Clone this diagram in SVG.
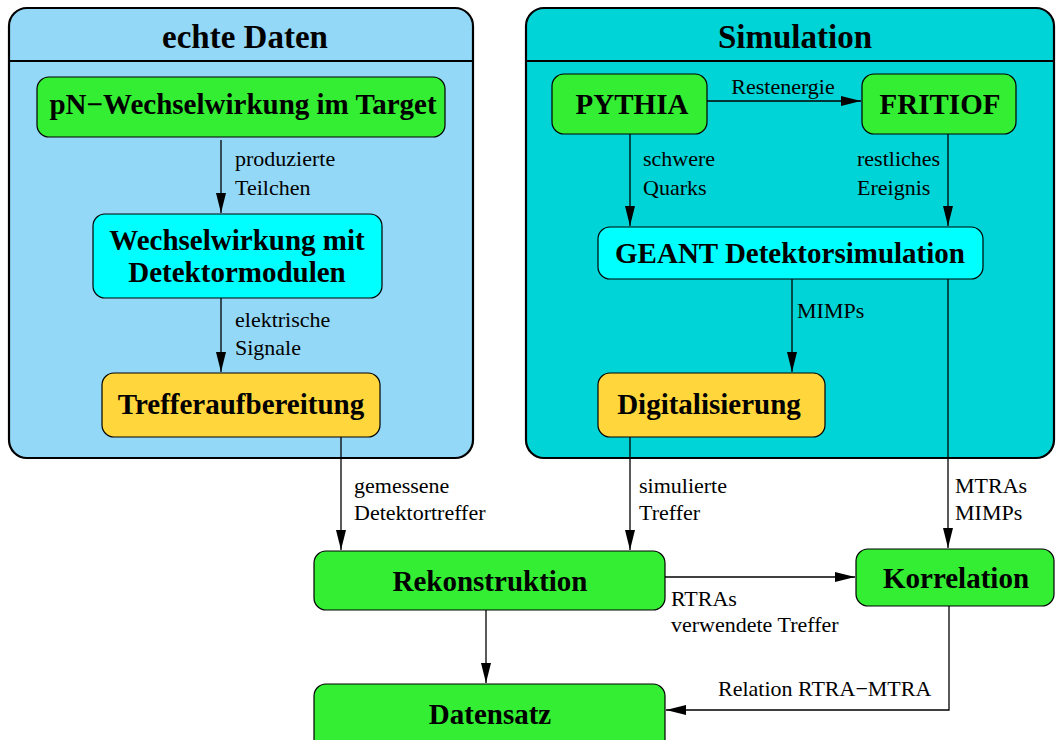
<svg xmlns="http://www.w3.org/2000/svg" width="1056" height="740" viewBox="0 0 1056 740">
<style>
.cont{stroke:#000;stroke-width:2.2}
.node{stroke:#000;stroke-width:1.2}
.g{fill:#33ee33}.c{fill:#00ffff}.y{fill:#ffd63c}
.t{font-family:"Liberation Serif",serif;font-weight:bold;font-size:29px;text-anchor:middle;fill:#000}
.h{font-family:"Liberation Serif",serif;font-weight:bold;font-size:33px;text-anchor:middle;fill:#000}
.l{font-family:"Liberation Serif",serif;font-size:22px;fill:#000}
.e{fill:none;stroke:#000;stroke-width:1.3}
</style>
<defs>
<marker id="ah" viewBox="0 0 20 10" refX="20" refY="5" markerWidth="20" markerHeight="10" markerUnits="userSpaceOnUse" orient="auto">
<path d="M0,0 L20,5 L0,10 z" fill="#000"/>
</marker>
</defs>
<rect width="1056" height="740" fill="#fff"/>
<g id="echte-daten">
<rect class="cont" x="9" y="8" width="464" height="450" rx="18" fill="#94d8f8"/>
<line class="cont" x1="9" y1="61" x2="473" y2="61"/>
<text class="h" x="245" y="48">echte Daten</text>
</g>
<g id="simulation">
<rect class="cont" x="526" y="8" width="528" height="450" rx="18" fill="#00d4d6"/>
<line class="cont" x1="526" y1="61" x2="1054" y2="61"/>
<text class="h" x="795" y="48">Simulation</text>
</g>
<g id="connectors">
<line class="e" x1="221" y1="140" x2="221" y2="213" marker-end="url(#ah)"/>
<line class="e" x1="221" y1="298" x2="221" y2="372" marker-end="url(#ah)"/>
<line class="e" x1="707" y1="101" x2="861" y2="101" marker-end="url(#ah)"/>
<line class="e" x1="630" y1="134" x2="630" y2="226" marker-end="url(#ah)"/>
<line class="e" x1="948" y1="134" x2="948" y2="226" marker-end="url(#ah)"/>
<line class="e" x1="792" y1="279" x2="792" y2="372" marker-end="url(#ah)"/>
<line class="e" x1="948" y1="279" x2="948" y2="548" marker-end="url(#ah)"/>
<line class="e" x1="341" y1="437" x2="341" y2="550" marker-end="url(#ah)"/>
<line class="e" x1="630" y1="437" x2="630" y2="550" marker-end="url(#ah)"/>
<line class="e" x1="665" y1="577" x2="855" y2="577" marker-end="url(#ah)"/>
<line class="e" x1="486" y1="610" x2="486" y2="683" marker-end="url(#ah)"/>
<polyline class="e" points="949,606 949,710 666,710" marker-end="url(#ah)"/>
<text class="l" x="235" y="166">produzierte</text>
<text class="l" x="235" y="195">Teilchen</text>
<text class="l" x="235" y="327">elektrische</text>
<text class="l" x="235" y="355">Signale</text>
<text class="l" x="783" y="94" text-anchor="middle">Restenergie</text>
<text class="l" x="643" y="166">schwere</text>
<text class="l" x="643" y="195">Quarks</text>
<text class="l" x="857" y="166">restliches</text>
<text class="l" x="857" y="195">Ereignis</text>
<text class="l" x="797" y="318">MIMPs</text>
<text class="l" x="354" y="493">gemessene</text>
<text class="l" x="354" y="520">Detektortreffer</text>
<text class="l" x="639" y="493">simulierte</text>
<text class="l" x="639" y="520">Treffer</text>
<text class="l" x="955" y="493">MTRAs</text>
<text class="l" x="955" y="520">MIMPs</text>
<text class="l" x="671" y="606">RTRAs</text>
<text class="l" x="671" y="632">verwendete Treffer</text>
<text class="l" x="718" y="696">Relation RTRA−MTRA</text>
</g>
<g id="pn">
<rect class="node g" x="37" y="77" width="408" height="60" rx="12"/>
<text class="t" x="243" y="114">pN−Wechselwirkung im Target</text>
</g>
<g id="wechselwirkung">
<rect class="node c" x="93" y="214" width="289" height="84" rx="12"/>
<text class="t" x="237" y="250">Wechselwirkung mit</text>
<text class="t" x="237" y="282">Detektormodulen</text>
</g>
<g id="trefferaufbereitung">
<rect class="node y" x="102" y="373" width="278" height="64" rx="12"/>
<text class="t" x="241" y="414">Trefferaufbereitung</text>
</g>
<g id="pythia">
<rect class="node g" x="552" y="74" width="155" height="60" rx="12"/>
<text class="t" x="632" y="114">PYTHIA</text>
</g>
<g id="fritiof">
<rect class="node g" x="862" y="74" width="154" height="60" rx="12"/>
<text class="t" x="940" y="114">FRITIOF</text>
</g>
<g id="geant">
<rect class="node c" x="598" y="227" width="385" height="52" rx="12"/>
<text class="t" x="790" y="263">GEANT Detektorsimulation</text>
</g>
<g id="digitalisierung">
<rect class="node y" x="598" y="373" width="227" height="64" rx="12"/>
<text class="t" x="709" y="414">Digitalisierung</text>
</g>
<g id="rekonstruktion">
<rect class="node g" x="314" y="551" width="351" height="59" rx="12"/>
<text class="t" x="490" y="591">Rekonstruktion</text>
</g>
<g id="korrelation">
<rect class="node g" x="856" y="549" width="198" height="57" rx="12"/>
<text class="t" x="956" y="588">Korrelation</text>
</g>
<g id="datensatz">
<rect class="node g" x="314" y="684" width="351" height="70" rx="12"/>
<text class="t" x="490" y="724">Datensatz</text>
</g>
</svg>
